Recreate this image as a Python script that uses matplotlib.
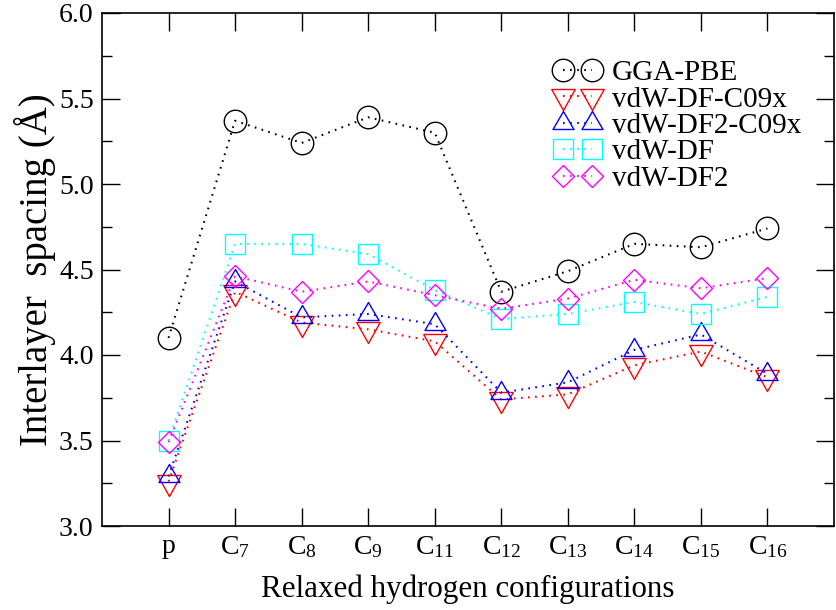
import numpy as np
import matplotlib
matplotlib.use("Agg")
import matplotlib.pyplot as plt
from matplotlib.path import Path
from matplotlib.ticker import MultipleLocator

plt.rcParams['font.family'] = ['Liberation Serif', 'DejaVu Serif']
plt.rcParams['mathtext.fontset'] = 'custom'
plt.rcParams['mathtext.rm'] = 'Liberation Serif'
plt.rcParams['mathtext.it'] = 'Liberation Serif:italic'

configs = ['p', '7', '8', '9', '11', '12', '13', '14', '15', '16']
tick_labels = ['p'] + [r'C$_{%s}$' % c for c in configs[1:]]

gga_pbe = [4.10, 5.37, 5.24, 5.39, 5.30, 4.37, 4.49, 4.65, 4.63, 4.74]
df_c09x = [3.26, 4.37, 4.19, 4.15, 4.08, 3.74, 3.77, 3.94, 4.02, 3.87]
df2_c09x = [3.29, 4.43, 4.22, 4.24, 4.18, 3.78, 3.84, 4.03, 4.12, 3.89]
vdw_df = [3.50, 4.65, 4.65, 4.59, 4.38, 4.21, 4.24, 4.31, 4.24, 4.34]
vdw_df2 = [3.49, 4.46, 4.37, 4.43, 4.35, 4.27, 4.33, 4.44, 4.39, 4.45]


def tri_marker(w, h, up=True):
    # triangle centred on its centroid (like xmgrace draws it)
    if up:
        verts = [(0, 2*h/3), (-w/2, -h/3), (w/2, -h/3), (0, 2*h/3)]
    else:
        verts = [(0, -2*h/3), (-w/2, h/3), (w/2, h/3), (0, -2*h/3)]
    size = 2 * max(abs(v) for p in verts for v in p) * 0.72  # px -> pt
    codes = [Path.MOVETO, Path.LINETO, Path.LINETO, Path.CLOSEPOLY]
    return Path(verts, codes), size


down_path, down_size = tri_marker(23.5, 21, up=False)
up_path, up_size = tri_marker(21, 18, up=True)

series = [
    (gga_pbe, 'GGA-PBE', 'black', 'o', 16.2),
    (df_c09x, 'vdW-DF-C09x', 'red', down_path, down_size),
    (df2_c09x, 'vdW-DF2-C09x', 'blue', up_path, up_size),
    (vdw_df, 'vdW-DF', 'cyan', 's', 13.7),
    (vdw_df2, 'vdW-DF2', 'magenta', 'D', 11.7),
]

x = np.arange(len(configs))

fig = plt.figure(figsize=(8.36, 6.10), dpi=100)
ax = fig.add_axes([102/836, 84/610, 732/836, 513/610])

for vals, name, col, mk, ms in series:
    ax.plot(x, vals, color=col, lw=1.5, dashes=(0.8, 2.6), marker=mk,
            markersize=ms, markerfacecolor='none', markeredgecolor=col,
            markeredgewidth=1.0, label=name)

ax.set_xlim(-1, 10)
ax.set_ylim(3.0, 6.0)
ax.set_xticks(x)
ax.set_xticklabels(tick_labels)
ax.yaxis.set_major_locator(MultipleLocator(0.5))
ax.yaxis.set_minor_locator(MultipleLocator(0.25))
ax.yaxis.set_major_formatter(matplotlib.ticker.FormatStrFormatter('%.1f'))
ax.tick_params(which='both', direction='in', top=True, right=True, width=1.0)
ax.tick_params(which='major', length=13, labelsize=20, pad=6)
ax.tick_params(which='minor', length=7)
for sp in ax.spines.values():
    sp.set_linewidth(1.2)

ax.set_xlabel('Relaxed hydrogen configurations', fontsize=22.3, labelpad=10)
ax.set_ylabel('Interlayer  spacing (Å)', fontsize=28, labelpad=2)

ax.legend(loc='upper left', bbox_to_anchor=(0.618, 0.909), frameon=False,
          numpoints=2, handlelength=1.59, handletextpad=0.385,
          labelspacing=0.0, borderpad=0, borderaxespad=0, fontsize=21)

fig.savefig('out.png', dpi=100)
